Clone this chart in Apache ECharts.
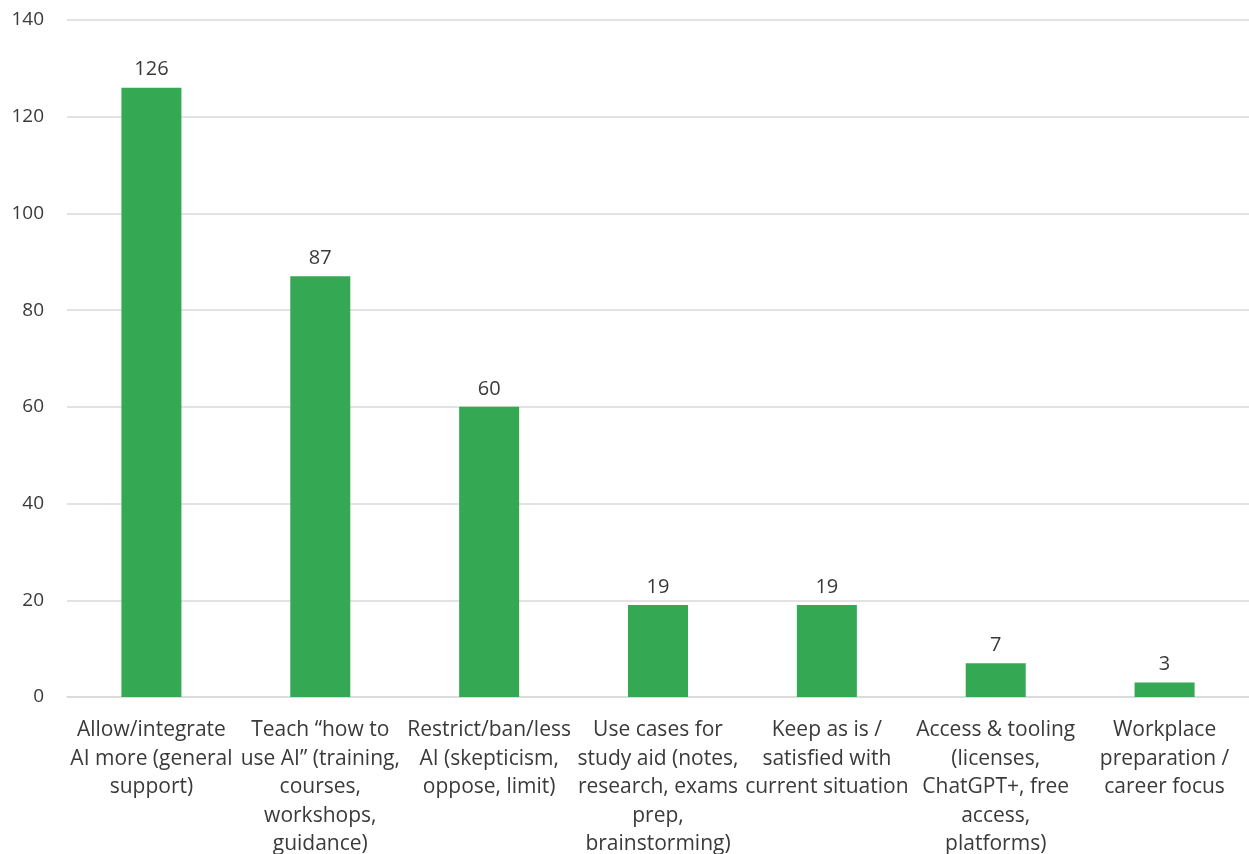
<!DOCTYPE html>
<html><head><meta charset="utf-8">
<script src="https://cdn.jsdelivr.net/npm/echarts@6/dist/echarts.min.js"></script>
<style>html,body{margin:0;padding:0;background:#fff;}#c{width:1249px;height:854px;}</style>
</head><body><div id="c"></div>
<script>
const categories = [
  "Allow/integrate\nAI more (general\nsupport)",
  "Teach “how to\nuse AI” (training,\ncourses,\nworkshops,\nguidance)",
  "Restrict/ban/less\nAI (skepticism,\noppose, limit)",
  "Use cases for\nstudy aid (notes,\nresearch, exams\nprep,\nbrainstorming)",
  "Keep as is /\nsatisfied with\ncurrent situation",
  "Access & tooling\n(licenses,\nChatGPT+, free\naccess,\nplatforms)",
  "Workplace\npreparation /\ncareer focus"
];
const values = [126, 87, 60, 19, 19, 7, 3];
const yTicks = { min: 0, max: 140, interval: 20 };

const chart = echarts.init(document.getElementById('c'), null, {renderer: 'canvas'});
const font = '"Open Sans", sans-serif';
chart.setOption({
  animation: false,
  backgroundColor: '#ffffff',
  grid: { left: 67, right: 0, top: 20, bottom: 157, containLabel: false, outerBoundsMode: 'none' },
  xAxis: {
    type: 'category',
    data: categories,
    axisLine: { show: true, lineStyle: { color: '#d9d9d9', width: 1.5 } },
    axisTick: { show: false },
    axisLabel: {
      interval: 0, margin: 19, color: '#3a3a3a', fontFamily: font, fontSize: 21,
      lineHeight: 28.5, align: 'center', verticalAlign: 'top'
    }
  },
  yAxis: {
    type: 'value', min: yTicks.min, max: yTicks.max, interval: yTicks.interval,
    axisLine: { show: false }, axisTick: { show: false },
    splitLine: { lineStyle: { color: '#d9d9d9', width: 1.5 } },
    axisLabel: { margin: 23, color: '#3a3a3a', fontFamily: font, fontSize: 19 }
  },
  series: [{
    type: 'bar', data: values, barWidth: 60,
    itemStyle: { color: '#34a853' },
    label: { show: true, position: 'top', distance: 8, color: '#3a3a3a', fontFamily: font, fontSize: 20 }
  }]
});
</script></body></html>
